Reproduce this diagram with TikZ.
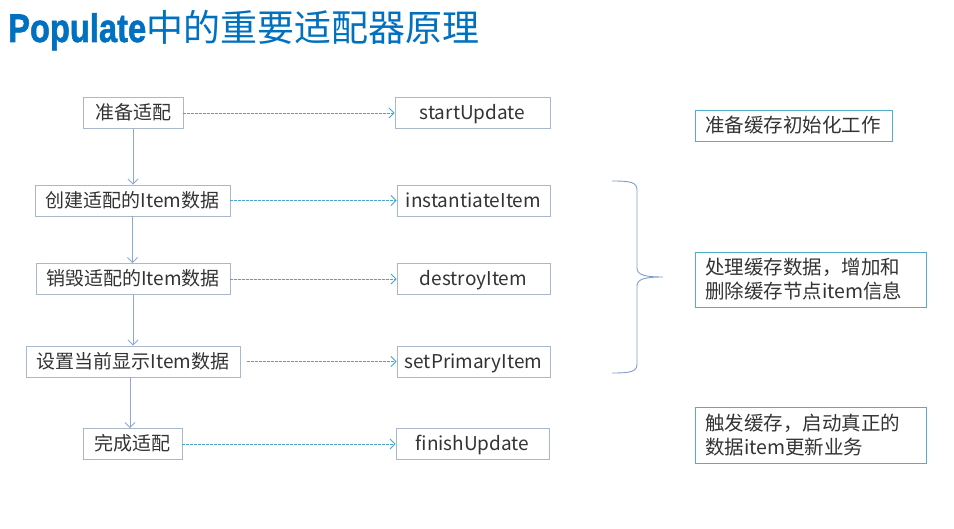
\documentclass[tikz,border=0pt]{standalone}
\usepackage{fontspec}
\setmainfont{Noto Sans CJK SC}
\newfontfamily\latinbold{Liberation Sans Bold}[FakeBold=1.5]
\usetikzlibrary{arrows.meta}

\definecolor{titleblue}{HTML}{0070C0}
\definecolor{boxgrey}{HTML}{A9B8CA}
\definecolor{noteblue}{HTML}{52AFCB}
\definecolor{dashblue}{HTML}{3FA9D5}
\definecolor{flowblue}{HTML}{8EA8D6}
\definecolor{bracegrey}{HTML}{7F9DC6}

\tikzset{
  stepbox/.style={draw=boxgrey, line width=0.9pt, minimum height=31pt, inner sep=0pt, text height=16pt, text depth=2pt, text=black!80, font=\fontsize{19}{22}\selectfont},
  notebox/.style={draw=noteblue, line width=0.9pt, inner xsep=10pt, inner ysep=4pt, align=left, text=black!80, font=\fontsize{19.5}{24}\selectfont},
  flow/.style={draw=flowblue, line width=0.9pt, -{Straight Barb[length=5pt,width=10pt]}},
  call/.style={draw=dashblue, line width=0.9pt, dash pattern=on 2.5pt off 1.5pt, -{Straight Barb[length=5pt,width=10pt]}},
}

\begin{document}
\begin{tikzpicture}[x=1pt, y=-1pt]
\useasboundingbox (0,0) rectangle (954,529);

\node[anchor=base west, inner sep=0pt, text=titleblue] (title) at (8,42)
  {\scalebox{0.86}[1.05]{\latinbold\fontsize{38}{40}\selectfont Populate}\fontsize{37}{40}\selectfont 中的重要适配器原理};

\node[stepbox, minimum width=100pt] (prep) at (133,113) {准备适配};
\node[stepbox, minimum width=195pt] (create) at (132.5,200.5) {创建适配的Item数据};
\node[stepbox, minimum width=194pt] (destroy) at (133,279) {销毁适配的Item数据};
\node[stepbox, minimum width=214pt] (setcur) at (133,361.5) {设置当前显示Item数据};
\node[stepbox, minimum width=99pt] (finish) at (132.5,444) {完成适配};

\node[stepbox, minimum width=155pt] (start) at (472.5,113) {startUpdate};
\node[stepbox, minimum width=153pt] (inst) at (473.5,200.5) {instantiateItem};
\node[stepbox, minimum width=153pt] (destroyitem) at (473.5,279) {destroyItem};
\node[stepbox, minimum width=153pt] (primary) at (473.5,361.5) {setPrimaryItem};
\node[stepbox, minimum width=153pt] (finishup) at (472.5,444) {finishUpdate};

\node[notebox, text width=177pt, minimum height=31pt] (initnote) at (793.5,125.5) {准备缓存初始化工作};
\node[notebox, text width=211pt, minimum height=55pt] (datanote) at (810.5,279.5) {处理缓存数据，增加和\\删除缓存节点item信息};
\node[notebox, text width=211pt, minimum height=56pt] (updatenote) at (810.5,435) {触发缓存，启动真正的\\数据item更新业务};

\draw[flow] (prep.south) -- (prep.south |- create.north);
\draw[flow] (create.south) -- (create.south |- destroy.north);
\draw[flow] (destroy.south) -- (destroy.south |- setcur.north);
\draw[flow] ([xshift=-3pt]setcur.south) -- ([xshift=-3pt]setcur.south |- finish.north);

\draw[call] (prep) -- (start);
\draw[call] (create) -- (inst);
\draw[call] (destroy) -- (destroyitem);
\draw[call, shorten <=7pt] (setcur) -- (primary);
\draw[call] (finish) -- (finishup);

\draw[bracegrey, line width=0.9pt] (612,181) .. controls (630,181) and (637,182) .. (637,190) -- (637,268)
  .. controls (637,275) and (645,277) .. (663,277) .. controls (645,277) and (637,279) .. (637,286)
  -- (637,364) .. controls (637,372) and (630,373) .. (612,373);

\end{tikzpicture}
\end{document}
